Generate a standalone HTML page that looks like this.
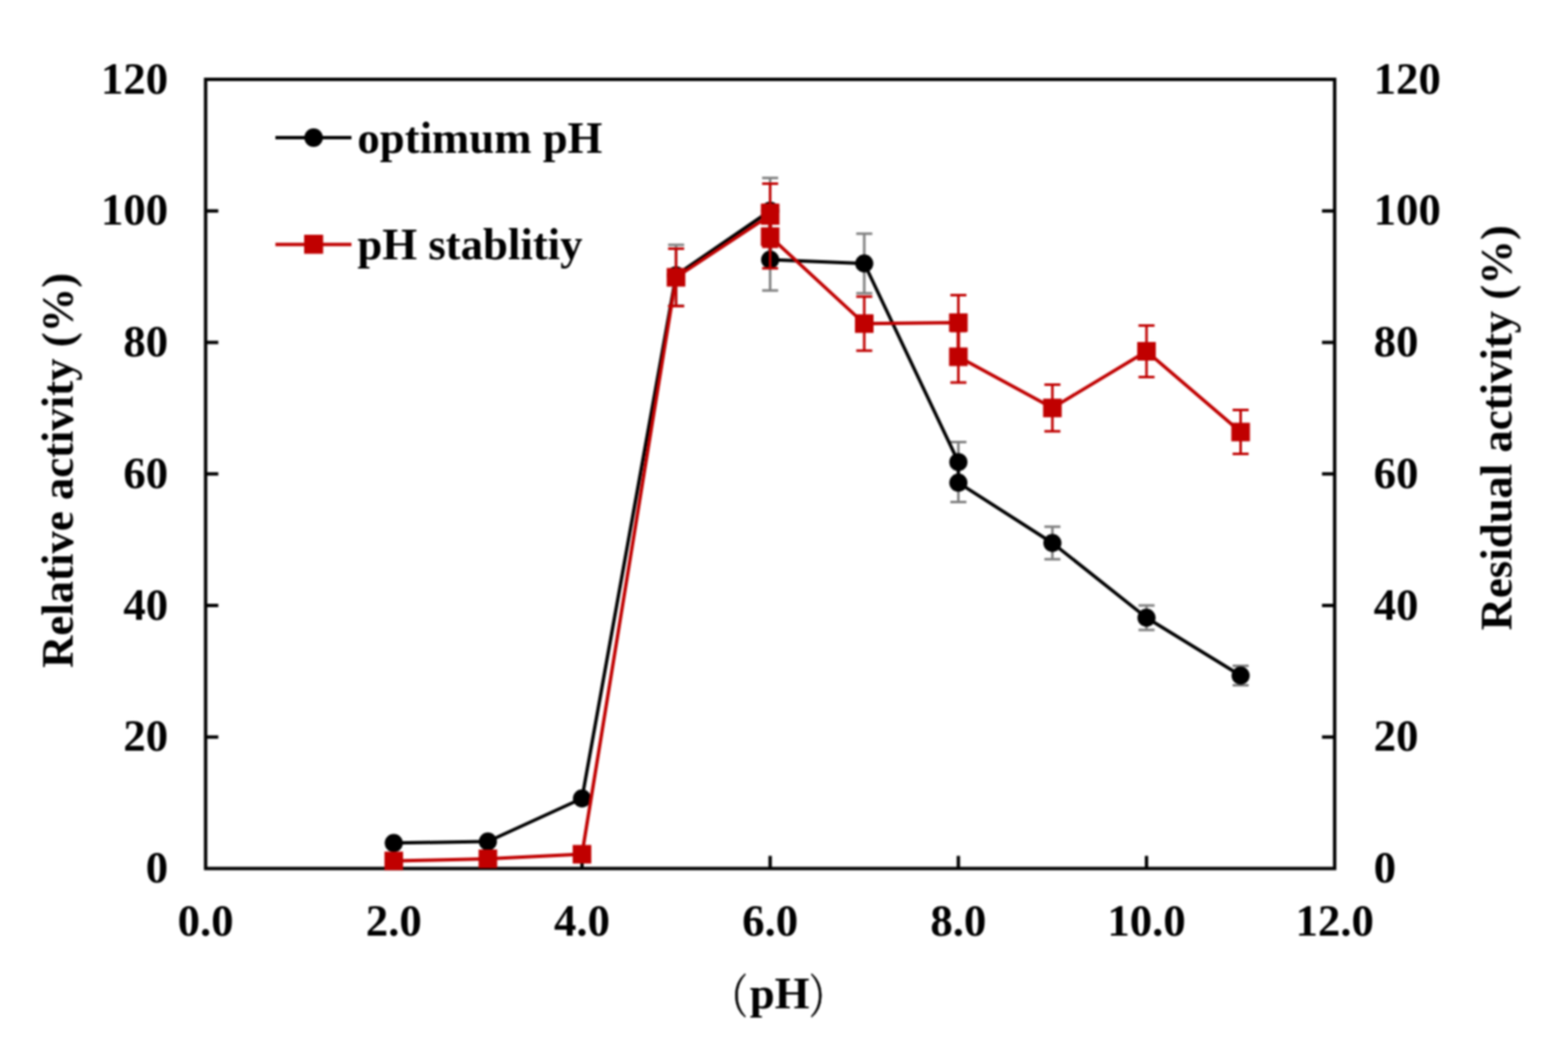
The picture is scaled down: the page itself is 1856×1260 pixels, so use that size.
<!DOCTYPE html><html><head><meta charset="utf-8"><title>pH chart</title><style>html,body{margin:0;padding:0;background:#fff;width:1856px;height:1260px;overflow:hidden}svg{display:block;filter:blur(1px)}</style></head><body>
<svg width="1856" height="1260" viewBox="0 0 1856 1260">
<rect width="1856" height="1260" fill="#fff"/>
<rect x="243.4" y="94.0" width="1336.4" height="934.5" fill="none" stroke="#000" stroke-width="4"/>
<line x1="243.4" y1="872.8" x2="258.4" y2="872.8" stroke="#000" stroke-width="4"/>
<line x1="1579.8" y1="872.8" x2="1564.8" y2="872.8" stroke="#000" stroke-width="4"/>
<line x1="243.4" y1="717.0" x2="258.4" y2="717.0" stroke="#000" stroke-width="4"/>
<line x1="1579.8" y1="717.0" x2="1564.8" y2="717.0" stroke="#000" stroke-width="4"/>
<line x1="243.4" y1="561.2" x2="258.4" y2="561.2" stroke="#000" stroke-width="4"/>
<line x1="1579.8" y1="561.2" x2="1564.8" y2="561.2" stroke="#000" stroke-width="4"/>
<line x1="243.4" y1="405.5" x2="258.4" y2="405.5" stroke="#000" stroke-width="4"/>
<line x1="1579.8" y1="405.5" x2="1564.8" y2="405.5" stroke="#000" stroke-width="4"/>
<line x1="243.4" y1="249.8" x2="258.4" y2="249.8" stroke="#000" stroke-width="4"/>
<line x1="1579.8" y1="249.8" x2="1564.8" y2="249.8" stroke="#000" stroke-width="4"/>
<line x1="243.4" y1="94.0" x2="258.4" y2="94.0" stroke="#000" stroke-width="4"/>
<line x1="1579.8" y1="94.0" x2="1564.8" y2="94.0" stroke="#000" stroke-width="4"/>
<line x1="466.1" y1="1028.5" x2="466.1" y2="1013.5" stroke="#000" stroke-width="4"/>
<line x1="688.9" y1="1028.5" x2="688.9" y2="1013.5" stroke="#000" stroke-width="4"/>
<line x1="911.6" y1="1028.5" x2="911.6" y2="1013.5" stroke="#000" stroke-width="4"/>
<line x1="1134.4" y1="1028.5" x2="1134.4" y2="1013.5" stroke="#000" stroke-width="4"/>
<line x1="1357.1" y1="1028.5" x2="1357.1" y2="1013.5" stroke="#000" stroke-width="4"/>
<g font-family="'Liberation Serif','Times New Roman',serif" font-weight="bold" font-size="53" fill="#000">
<text x="199" y="1045.0" text-anchor="end">0</text>
<text x="1626" y="1045.0">0</text>
<text x="199" y="889.2" text-anchor="end">20</text>
<text x="1626" y="889.2">20</text>
<text x="199" y="733.5" text-anchor="end">40</text>
<text x="1626" y="733.5">40</text>
<text x="199" y="577.8" text-anchor="end">60</text>
<text x="1626" y="577.8">60</text>
<text x="199" y="422.0" text-anchor="end">80</text>
<text x="1626" y="422.0">80</text>
<text x="199" y="266.2" text-anchor="end">100</text>
<text x="1626" y="266.2">100</text>
<text x="199" y="110.5" text-anchor="end">120</text>
<text x="1626" y="110.5">120</text>
<text x="243.4" y="1108" text-anchor="middle">0.0</text>
<text x="466.1" y="1108" text-anchor="middle">2.0</text>
<text x="688.9" y="1108" text-anchor="middle">4.0</text>
<text x="911.6" y="1108" text-anchor="middle">6.0</text>
<text x="1134.4" y="1108" text-anchor="middle">8.0</text>
<text x="1357.1" y="1108" text-anchor="middle">10.0</text>
<text x="1579.8" y="1108" text-anchor="middle">12.0</text>
</g>
<text font-family="'Liberation Serif','Times New Roman',serif" font-weight="bold" font-size="53" transform="translate(85.6,791) rotate(-90)">Relative activity (%)</text>
<text font-family="'Liberation Serif','Times New Roman',serif" font-weight="bold" font-size="53" transform="translate(1788.5,746.5) rotate(-90)">Residual activity (%)</text>
<text transform="translate(842.8,1200.3) scale(0.8,1.04)" font-family="'Noto Serif CJK SC',serif" font-size="53" stroke="#000" stroke-width="0.6">（</text>
<text x="887.5" y="1193.5" font-family="'Liberation Serif','Times New Roman',serif" font-weight="bold" font-size="53">pH</text>
<text transform="translate(957.6,1200.3) scale(0.8,1.04)" font-family="'Noto Serif CJK SC',serif" font-size="53" stroke="#000" stroke-width="0.6">）</text>
<line x1="326" y1="163" x2="416" y2="163" stroke="#000" stroke-width="4"/>
<circle cx="371.2" cy="163" r="11" fill="#000"/>
<text x="423" y="180.6" font-family="'Liberation Serif','Times New Roman',serif" font-weight="bold" font-size="53">optimum pH</text>
<line x1="326" y1="289.4" x2="416" y2="289.4" stroke="#C00000" stroke-width="4"/>
<rect x="360" y="278" width="22.5" height="22.5" fill="#C00000"/>
<text x="423" y="306.7" font-family="'Liberation Serif','Times New Roman',serif" font-weight="bold" font-size="53">pH stablitiy</text>
<path d="M800.2,290.0V362.0M790.8,290.0h19M790.8,362.0h19" stroke="#808080" stroke-width="3" fill="none"/>
<path d="M911.6,210.7V288.3M902.1,210.7h19M902.1,288.3h19" stroke="#808080" stroke-width="3" fill="none"/>
<path d="M911.6,271.0V344.0M902.1,271.0h19M902.1,344.0h19" stroke="#808080" stroke-width="3" fill="none"/>
<path d="M1023.0,276.8V347.2M1013.5,276.8h19M1013.5,347.2h19" stroke="#808080" stroke-width="3" fill="none"/>
<path d="M1134.4,523.5V570.9M1124.9,523.5h19M1124.9,570.9h19" stroke="#808080" stroke-width="3" fill="none"/>
<path d="M1134.4,548.8V594.4M1124.9,548.8h19M1124.9,594.4h19" stroke="#808080" stroke-width="3" fill="none"/>
<path d="M1245.7,623.8V662.2M1236.2,623.8h19M1236.2,662.2h19" stroke="#808080" stroke-width="3" fill="none"/>
<path d="M1357.1,716.9V746.1M1347.6,716.9h19M1347.6,746.1h19" stroke="#808080" stroke-width="3" fill="none"/>
<path d="M1468.5,788.5V811.5M1459.0,788.5h19M1459.0,811.5h19" stroke="#808080" stroke-width="3" fill="none"/>
<polyline points="466.1,998.3 577.5,996.5 688.9,945.5 800.2,326.0 911.6,249.5 911.6,307.5 1023.0,312.0 1134.4,547.2 1134.4,571.6 1245.7,643.0 1357.1,731.5 1468.5,800.0" fill="none" stroke="#000" stroke-width="4" stroke-linejoin="round"/>
<circle cx="466.1" cy="998.3" r="10.75" fill="#000"/>
<circle cx="577.5" cy="996.5" r="10.75" fill="#000"/>
<circle cx="688.9" cy="945.5" r="10.75" fill="#000"/>
<circle cx="800.2" cy="326.0" r="10.75" fill="#000"/>
<circle cx="911.6" cy="249.5" r="10.75" fill="#000"/>
<circle cx="911.6" cy="307.5" r="10.75" fill="#000"/>
<circle cx="1023.0" cy="312.0" r="10.75" fill="#000"/>
<circle cx="1134.4" cy="547.2" r="10.75" fill="#000"/>
<circle cx="1134.4" cy="571.6" r="10.75" fill="#000"/>
<circle cx="1245.7" cy="643.0" r="10.75" fill="#000"/>
<circle cx="1357.1" cy="731.5" r="10.75" fill="#000"/>
<circle cx="1468.5" cy="800.0" r="10.75" fill="#000"/>
<path d="M800.2,294.4V362.4M790.8,294.4h19M790.8,362.4h19" stroke="#C00000" stroke-width="3" fill="none"/>
<path d="M911.6,217.4V292.2M902.1,217.4h19M902.1,292.2h19" stroke="#C00000" stroke-width="3" fill="none"/>
<path d="M911.6,242.8V317.8M902.1,242.8h19M902.1,317.8h19" stroke="#C00000" stroke-width="3" fill="none"/>
<path d="M1023.0,351.2V415.2M1013.5,351.2h19M1013.5,415.2h19" stroke="#C00000" stroke-width="3" fill="none"/>
<path d="M1134.4,349.6V414.6M1124.9,349.6h19M1124.9,414.6h19" stroke="#C00000" stroke-width="3" fill="none"/>
<path d="M1134.4,392.0V453.0M1124.9,392.0h19M1124.9,453.0h19" stroke="#C00000" stroke-width="3" fill="none"/>
<path d="M1245.7,455.4V510.8M1236.2,455.4h19M1236.2,510.8h19" stroke="#C00000" stroke-width="3" fill="none"/>
<path d="M1357.1,385.5V446.5M1347.6,385.5h19M1347.6,446.5h19" stroke="#C00000" stroke-width="3" fill="none"/>
<path d="M1468.5,485.6V537.6M1459.0,485.6h19M1459.0,537.6h19" stroke="#C00000" stroke-width="3" fill="none"/>
<polyline points="466.1,1019.5 577.5,1017.0 688.9,1011.6 800.2,328.4 911.6,254.8 911.6,280.3 1023.0,383.2 1134.4,382.1 1134.4,422.5 1245.7,483.1 1357.1,416.0 1468.5,511.6" fill="none" stroke="#C00000" stroke-width="4" stroke-linejoin="round"/>
<rect x="455.1" y="1008.5" width="22" height="22" fill="#C00000"/>
<rect x="566.5" y="1006.0" width="22" height="22" fill="#C00000"/>
<rect x="677.9" y="1000.6" width="22" height="22" fill="#C00000"/>
<rect x="789.2" y="317.4" width="22" height="22" fill="#C00000"/>
<rect x="900.6" y="241.2" width="22" height="25" fill="#C00000"/>
<rect x="900.6" y="269.3" width="22" height="22" fill="#C00000"/>
<rect x="1012.0" y="372.2" width="22" height="22" fill="#C00000"/>
<rect x="1123.4" y="371.1" width="22" height="22" fill="#C00000"/>
<rect x="1123.4" y="411.5" width="22" height="22" fill="#C00000"/>
<rect x="1234.7" y="472.1" width="22" height="22" fill="#C00000"/>
<rect x="1346.1" y="405.0" width="22" height="22" fill="#C00000"/>
<rect x="1457.5" y="500.6" width="22" height="22" fill="#C00000"/>
</svg></body></html>
